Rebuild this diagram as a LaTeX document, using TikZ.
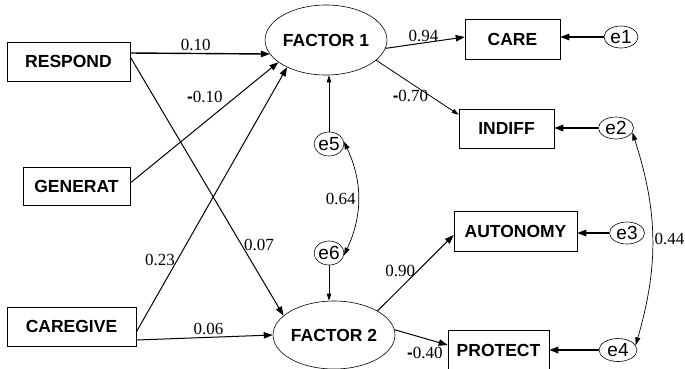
\documentclass[tikz,border=0pt]{standalone}
\usepackage{fontspec}
\setmainfont{Liberation Serif}
\setsansfont{Liberation Sans}
\usepackage{tikz}
\usetikzlibrary{arrows.meta,shapes.geometric}
\newcommand{\negsign}{{\sffamily\bfseries -}}

\begin{document}
\begin{tikzpicture}[x=1pt,y=-1pt,
    font=\fontsize{17}{20}\selectfont,
    >={Triangle[length=9pt,width=6.5pt]},
    var/.style={draw,line width=0.6pt,font=\fontsize{17.5}{20}\selectfont\sffamily\bfseries,inner sep=0pt},
    fac/.style={draw,ellipse,line width=0.6pt,inner sep=0pt,font=\fontsize{17.5}{20}\selectfont\sffamily\bfseries},
    err/.style={draw,ellipse,line width=0.6pt,inner sep=0pt,font=\fontsize{19}{21}\selectfont\sffamily},
    path/.style={->,line width=1pt},
    thinpath/.style={-{Triangle[length=7pt,width=4.5pt]},line width=0.6pt},
    cov/.style={{Triangle[length=8pt,width=5pt]}-{Triangle[length=8pt,width=5pt]},line width=0.7pt},
    coef/.style={inner sep=2pt}]
  \useasboundingbox (0,0) rectangle (685,368);
  % observed predictors
  \node[var,minimum width=123pt,minimum height=39pt] (respond) at (68.5,61.5) {RESPOND};
  \node[var,minimum width=107pt,minimum height=38pt] (generat) at (76.5,186) {GENERAT};
  \node[var,minimum width=129pt,minimum height=39pt] (caregive) at (71.5,326.5) {CAREGIVE};
  % latent factors
  \node[fac,minimum width=114pt,minimum height=70pt] (f1) at (326,40) {FACTOR 1};
  \node[fac,minimum width=116pt,minimum height=68pt] (f2) at (334,335) {FACTOR 2};
  % indicators
  \node[var,minimum width=95pt,minimum height=40pt] (care) at (512.5,39) {CARE};
  \node[var,minimum width=95pt,minimum height=39pt] (indiff) at (506.5,128.5) {INDIFF};
  \node[var,minimum width=123pt,minimum height=40pt] (autonomy) at (515.5,231) {AUTONOMY};
  \node[var,minimum width=101pt,minimum height=40pt] (protect) at (498.5,350) {PROTECT};
  % error terms
  \node[err,minimum width=34pt,minimum height=22pt] (e1) at (621,37) {e1};
  \node[err,minimum width=35pt,minimum height=22pt] (e2) at (616,128) {e2};
  \node[err,minimum width=35pt,minimum height=22pt] (e3) at (627,233) {e3};
  \node[err,minimum width=38pt,minimum height=23pt] (e4) at (618,350) {e4};
  \node[err,minimum width=28pt,minimum height=24pt] (e5) at (329,144) {e5};
  \node[err,minimum width=28pt,minimum height=24pt] (e6) at (329,253) {e6};

  % structural paths
  \draw[path,line width=1.4pt] ([yshift=8.5pt]respond.east) -- (f1.194)
    node[coef,pos=0.47,above] (l1) {0.10};
  \draw[path] ([yshift=4.5pt]respond.east) -- (f2.159)
    node[coef,pos=0.727,anchor=west] (l2) {0.07};
  \draw[path] ([yshift=3pt]generat.east) -- (f1.205)
    node[coef,pos=0.64,anchor=south east] (l3) {\negsign0.10};
  \draw[path] ([yshift=-5.5pt]caregive.east) -- (f1.215)
    node[coef,pos=0.273,anchor=east] (l4) {0.23};
  \draw[path] ([yshift=-13.5pt]caregive.east) -- (f2.180)
    node[coef,pos=0.53,above] (l5) {0.06};

  % loadings
  \draw[path] (f1.-8) -- ([yshift=2pt]care.west)
    node[coef,pos=0.48,above,inner sep=1pt] (l6) {0.94};
  \draw[thinpath,line width=0.8pt] (f1.-22) -- ([yshift=-6pt]indiff.north west)
    node[coef,pos=0.66,anchor=east] (l7) {\negsign0.70};
  \draw[path] (f2.29) -- ([yshift=-4pt]autonomy.west)
    node[coef,pos=0.526,anchor=east] (l8) {0.90};
  \draw[path] (f2.5) -- ([yshift=5pt]protect.west)
    node[coef,pos=0.95,anchor=north east] (l9) {\negsign0.40};

  % residuals
  \draw[path,line width=1.4pt] (e1.west) -- (care.east |- e1.west);
  \draw[path,line width=1.4pt] (e2.west) -- (indiff.east |- e2.west);
  \draw[path,line width=1.4pt] (e3.west) -- (autonomy.east |- e3.west);
  \draw[path,line width=1.4pt] (e4.west) -- (protect.east |- e4.west);
  \draw[thinpath] (e5.north) -- (e5.north |- f1.south);
  \draw[thinpath] (e6.south) -- (e6.south |- f2.north);

  % covariances
  \draw[cov] (e5.10) to[bend left=25] node[coef,midway,left] (c1) {0.64} (e6.-10);
  \draw[cov] (e2.-15) to[bend left=17] node[coef,midway,right] (c2) {0.44} (e4.15);
\end{tikzpicture}
\end{document}
